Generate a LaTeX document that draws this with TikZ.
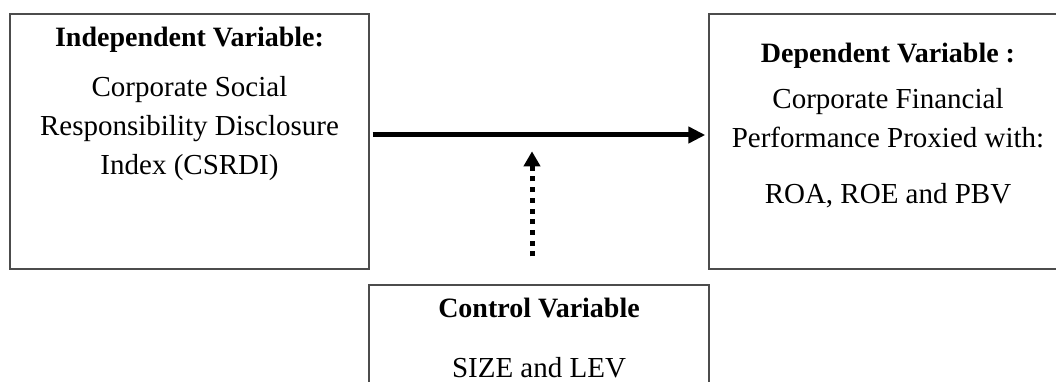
\documentclass[tikz,border=0pt]{standalone}
\usepackage{fontspec}
\setmainfont{Liberation Serif}
\usetikzlibrary{arrows.meta,calc}
\begin{document}
\begin{tikzpicture}[x=1pt,y=-1pt,
  box/.style={draw=black!70,line width=1.4pt,rectangle,inner sep=0pt},
  txt/.style={anchor=base,align=center,inner sep=0pt,font=\fontsize{29}{39}\selectfont},
  ttl/.style={anchor=base,align=center,inner sep=0pt,font=\fontsize{28}{39}\selectfont\bfseries},
  mainarrow/.style={line width=5pt,-{Triangle[length=17pt,width=16pt]}},
  ctrlarrow/.style={line width=5pt,dash pattern=on 5pt off 5.7pt,-{Triangle[length=15pt,width=16pt]}}]
\useasboundingbox (0,0) rectangle (1056,382);
\fill[white] (0,0) rectangle (1056,382);
% boxes
\node[box,minimum width=359pt,minimum height=255pt] (L) at (189.5,141.5) {};
\node[box,minimum width=358pt,minimum height=255pt] (R) at (888,141.5) {};
\node[box,minimum width=340pt,minimum height=130pt] (C) at (539,350) {};
% texts (multi-line nodes: base anchor is the last line's baseline)
\node[ttl] (Lt) at (189.5,47) {Independent Variable:};
\node[txt] (Lb) at (189.5,175) {Corporate Social\\Responsibility Disclosure\\Index (CSRDI)};
\node[ttl] (Rt) at (888,63) {Dependent Variable :};
\node[txt] (Rb) at (888,148) {Corporate Financial\\Performance Proxied with:};
\node[txt] (Rc) at (888,203) {ROA, ROE and PBV};
\node[ttl] (Ct) at (539,317) {Control Variable};
\node[txt] (Cb) at (539,377) {SIZE and LEV};
% connectors
\coordinate (a1) at ($(L.east)+(3,-6.5)$);
\coordinate (a2) at ($(R.west)+(-3,-6.5)$);
\draw[mainarrow] (a1) -- (a2);
\coordinate (c1) at ($(C.north)+(-7,-28)$);
\coordinate (c2) at ($(C.north)+(-7,-133)$);
\draw[ctrlarrow] (c1) -- (c2);
\end{tikzpicture}
\end{document}
